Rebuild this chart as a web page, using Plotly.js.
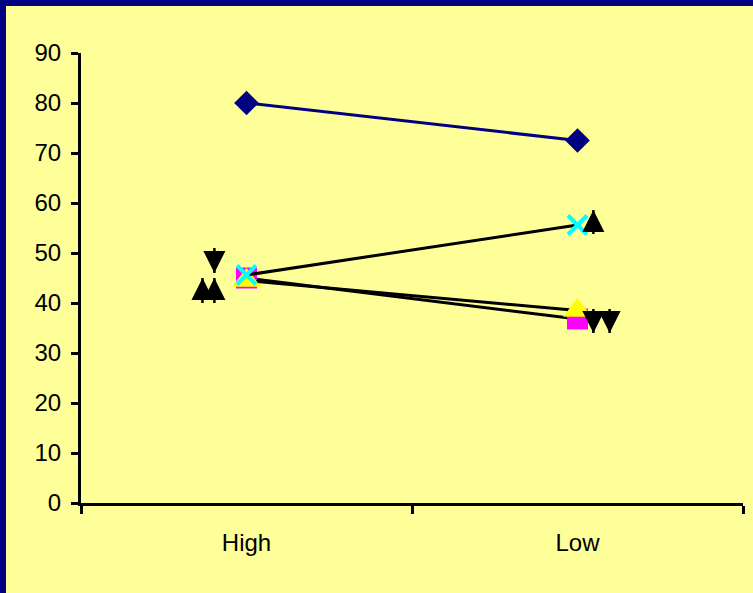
<!DOCTYPE html>
<html>
<head>
<meta charset="utf-8">
<script src="https://cdn.plot.ly/plotly-3.0.1.min.js"></script>
<style>
html, body { margin: 0; padding: 0; background: #000080; width: 753px; height: 593px; overflow: hidden; }
#chart { position: absolute; left: 6px; top: 6px; width: 747px; height: 587px; }
</style>
</head>
<body>
<div id="chart"></div>
<script>
// Categories and series values
const categories = ['High', 'Low'];
const catPos = [0, 1];
const seriesNavy = [80, 72.5];
const seriesMagenta = [45, 36.8];
const seriesYellow = [44.5, 38.5];
const seriesCyan = [45.6, 55.6];

// Arrow markers (apex value, stem length)
const upArrowX = [-0.133, -0.097, 1.048];
const upArrowY = [45, 45, 58.6];
const upArrowStem = [5, 5, 4.8];
const downArrowX = [-0.097, 1.048, 1.097];
const downArrowY = [46, 34, 34];
const downArrowStem = [5, 4.8, 4.8];

const yTicks = [0, 10, 20, 30, 40, 50, 60, 70, 80, 90];
const catBoundaries = [-0.5, 0.5, 1.5];

const font = { family: 'Liberation Sans, Arial, sans-serif', size: 24, color: '#000000' };

const traces = [
  { x: catPos, y: seriesNavy, mode: 'lines+markers', line: { color: '#000080', width: 3 },
    marker: { symbol: 'diamond', size: 19, color: '#000080' } },
  { x: catPos, y: seriesMagenta, mode: 'lines+markers', line: { color: '#000000', width: 3 },
    marker: { symbol: 'square', size: 21, color: '#FF00FF' } },
  { x: catPos, y: seriesYellow, mode: 'lines+markers', line: { color: '#000000', width: 3 },
    marker: { symbol: 'triangle-up', size: 25, color: '#FFFF00' } },
  { x: catPos, y: seriesCyan, mode: 'lines+markers', line: { color: '#000000', width: 3 },
    marker: { symbol: 'x-thin-open', size: 19, color: '#00FFFF', line: { color: '#00FFFF', width: 4 } } },
  { x: upArrowX, y: upArrowY, mode: 'markers',
    marker: { symbol: 'arrow-up', size: 22, color: '#000000' },
    error_y: { type: 'data', symmetric: false, array: upArrowY.map(() => 0), arrayminus: upArrowStem,
               width: 0, thickness: 2.5, color: '#000000' } },
  { x: downArrowX, y: downArrowY, mode: 'markers',
    marker: { symbol: 'arrow-down', size: 22, color: '#000000' },
    error_y: { type: 'data', symmetric: false, array: downArrowStem, arrayminus: downArrowY.map(() => 0),
               width: 0, thickness: 2.5, color: '#000000' } }
];

const layout = {
  width: 747, height: 587,
  margin: { l: 75, r: 10, t: 47, b: 90 },
  paper_bgcolor: '#FFFF99',
  plot_bgcolor: '#FFFF99',
  showlegend: false,
  font: font,
  xaxis: {
    range: [-0.5, 1.5],
    tickvals: catPos, ticktext: categories,
    ticks: '', showgrid: false, zeroline: false,
    showline: true, linecolor: '#000000', linewidth: 3,
    ticklabelstandoff: 16,
    tickfont: font,
    minor: { tickvals: catBoundaries, ticks: 'outside', ticklen: 8, tickwidth: 3, tickcolor: '#000000', showgrid: false }
  },
  yaxis: {
    range: [0, 90],
    tickvals: yTicks,
    ticks: 'outside', ticklen: 7, tickwidth: 3, tickcolor: '#000000',
    showgrid: false, zeroline: false,
    showline: true, linecolor: '#000000', linewidth: 3,
    ticklabelstandoff: 5,
    tickfont: font
  }
};

Plotly.newPlot('chart', traces, layout, { displayModeBar: false, staticPlot: true });
</script>
</body>
</html>
